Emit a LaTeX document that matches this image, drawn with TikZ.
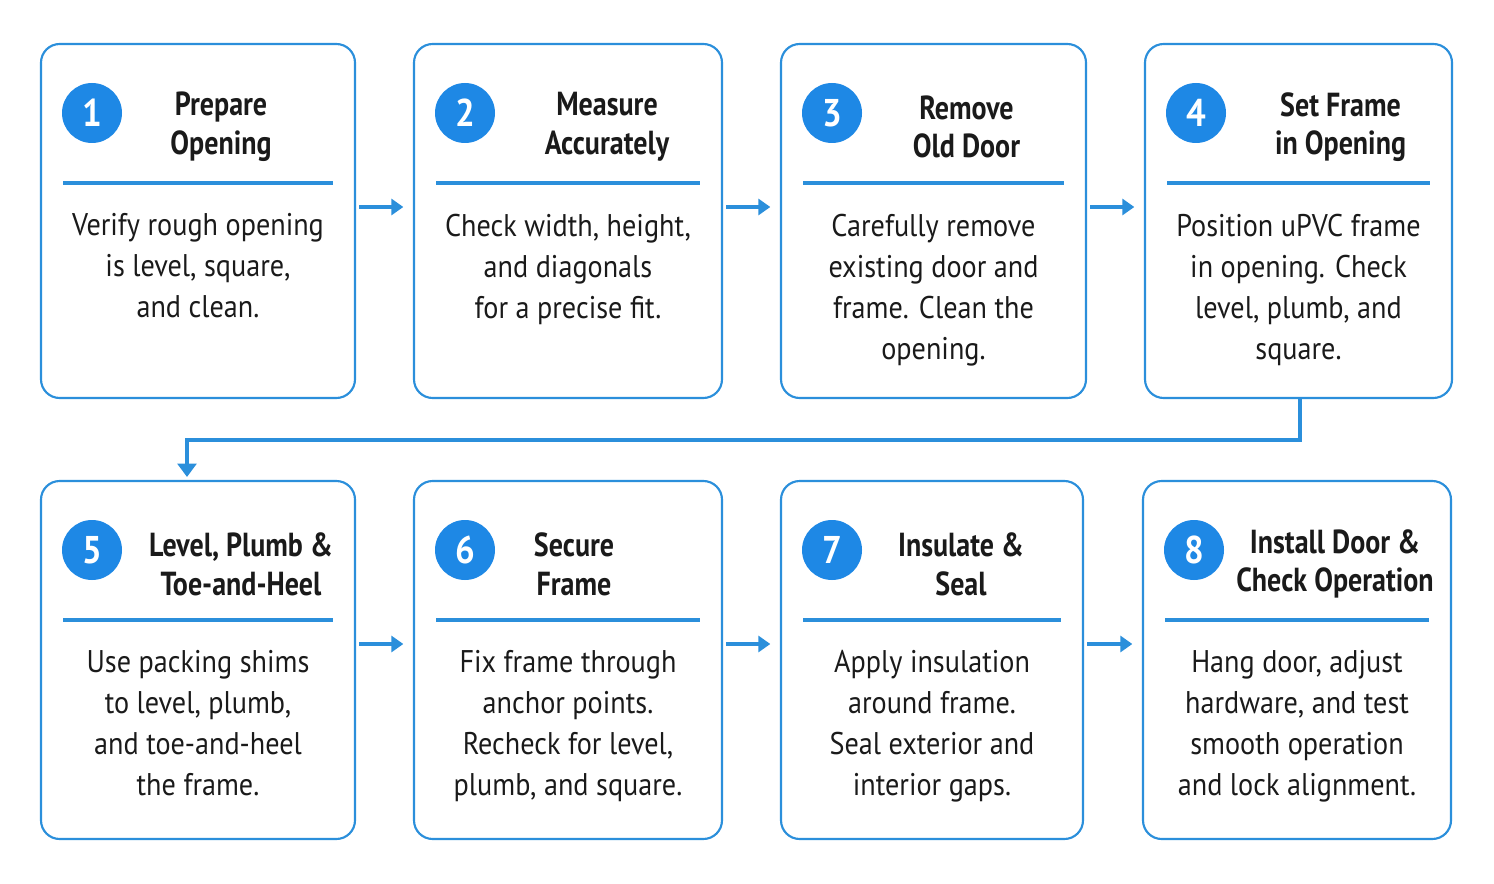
\documentclass[tikz,border=0pt]{standalone}
\usepackage{fontspec}
\setmainfont{PT Sans}[FakeStretch=0.9]
\newfontfamily\ttlfont{PT Sans}[FakeStretch=0.84]
\usetikzlibrary{arrows.meta}
\definecolor{blu}{HTML}{1E88E5}
\definecolor{edge}{HTML}{2B8FDB}
\definecolor{txt}{HTML}{1A1A1A}
\begin{document}
\begin{tikzpicture}[x=0.75pt,y=-0.75pt,
  box/.style={draw=edge,line width=1.6pt,rounded corners=14pt},
  num/.style={circle,fill=blu,text=white,minimum size=45pt,inner sep=0pt,font=\bfseries\fontsize{29}{29}\selectfont},
  ttl/.style={font=\ttlfont\bfseries\fontsize{25}{29}\selectfont,align=center,text=txt},
  bod/.style={font=\fontsize{23.5}{30.75}\selectfont,align=center,text=txt,anchor=north},
  sep/.style={draw=edge,line width=2.6pt},
  arr/.style={draw=edge,line width=3pt,-{Triangle[length=9pt,width=12pt]}}]
\useasboundingbox (0,0) rectangle (1494,884);
\newcommand\stepbox[9]{%
  \draw[box] (#2,#3) rectangle (#4,#5);
  \coordinate (#1w) at (#2,#3+163);
  \coordinate (#1e) at (#4,#3+163);
  \node[num] (#1n) at (#2+51,#3+69) {#6};
  \node[ttl] (#1t) at ({(#2+#4)/2+#9},#3+83) {#7};
  \draw[sep] (#2+22,#3+139) -- (#4-22,#3+139);
  \node[bod] (#1b) at ({(#2+#4)/2},#3+165) {#8};
}
\stepbox{a}{41}{44}{355}{398}{1}{Prepare\\Opening}{Verify rough opening\\is level, square,\\and clean.}{23}
\stepbox{b}{414}{44}{722}{398}{2}{Measure\\Accurately}{Check width, height,\\and diagonals\\for a precise fit.}{39}
\stepbox{c}{781}{44}{1086}{398}{3}{Remove\\Old Door}{Carefully remove\\existing door and\\frame. Clean the\\opening.}{33}
\stepbox{d}{1145}{44}{1452}{398}{4}{Set Frame\\in Opening}{Position uPVC frame\\in opening. Check\\level, plumb, and\\square.}{42}
\stepbox{e}{41}{481}{355}{839}{5}{Level, Plumb \&\\Toe-and-Heel}{Use packing shims\\to level, plumb,\\and toe-and-heel\\the frame.}{43}
\stepbox{f}{414}{481}{722}{839}{6}{Secure\\Frame}{Fix frame through\\anchor points.\\Recheck for level,\\plumb, and square.}{6}
\stepbox{g}{781}{481}{1083}{839}{7}{Insulate \&\\Seal}{Apply insulation\\around frame.\\Seal exterior and\\interior gaps.}{29}
\stepbox{h}{1143}{481}{1451}{839}{8}{Install Door \&\\Check Operation}{Hang door, adjust\\hardware, and test\\smooth operation\\and lock alignment.}{38}
\draw[arr] ([xshift=3pt]ae) -- ([xshift=-8pt]bw);
\draw[arr] ([xshift=3pt]be) -- ([xshift=-8pt]cw);
\draw[arr] ([xshift=3pt]ce) -- ([xshift=-8pt]dw);
\draw[arr] ([xshift=3pt]ee) -- ([xshift=-8pt]fw);
\draw[arr] ([xshift=3pt]fe) -- ([xshift=-8pt]gw);
\draw[arr] ([xshift=3pt]ge) -- ([xshift=-8pt]hw);
\coordinate (dbot) at (1300,398);
\coordinate (etop) at (187,477);
\draw[draw=edge,line width=3pt,-{Triangle[length=10pt,width=14pt]}] (dbot) |- (187,440) -- (etop);
\end{tikzpicture}
\end{document}
